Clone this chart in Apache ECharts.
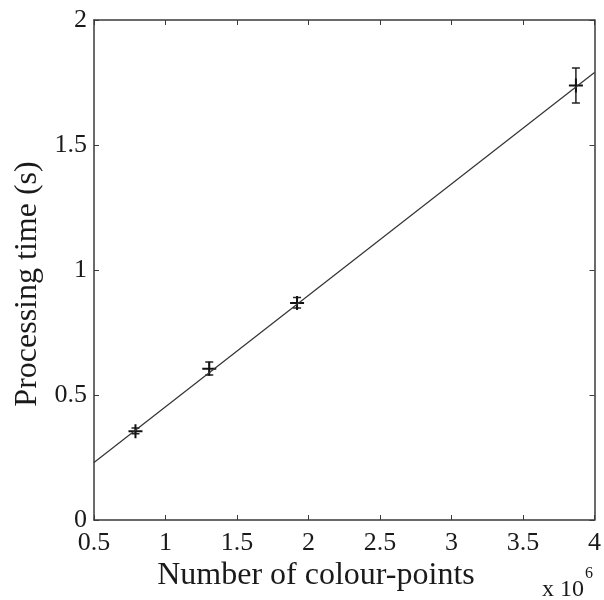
<!DOCTYPE html>
<html><head><meta charset="utf-8">
<script src="https://cdn.jsdelivr.net/npm/echarts@6/dist/echarts.min.js"></script>
<style>html,body{margin:0;padding:0;background:#fff}#c{width:604px;height:600px}</style>
</head><body><div id="c"></div>
<script>
// measured points (x in units of 10^6 colour-points)
const pointsX = [0.79, 1.306, 1.92, 3.87];
const pointsY = [0.355, 0.605, 0.868, 1.738];
const errLow = [0.345, 0.58, 0.848, 1.668];
const errHigh = [0.368, 0.632, 0.89, 1.808];
// fitted line endpoints
const fitX = [0.5, 4];
const fitY = [0.23, 1.79];
const xTicks = [0.5, 1, 1.5, 2, 2.5, 3, 3.5, 4];
const yTicks = [0, 0.5, 1, 1.5, 2];

const chart = echarts.init(document.getElementById('c'));
const axisCol = '#3a3a3a';
const font = 'Liberation Serif';
const errData = pointsX.map((x, i) => [x, pointsY[i], errLow[i], errHigh[i]]);
const baseX = {min: 0.5, max: 4, interval: 0.5, splitLine: {show: false},
  axisLine: {onZero: false, lineStyle: {color: axisCol, width: 1.5}},
  axisTick: {inside: true, length: 5, lineStyle: {color: axisCol}}};
const baseY = {min: 0, max: 2, interval: 0.5, splitLine: {show: false},
  axisLine: {onZero: false, lineStyle: {color: axisCol, width: 1.5}},
  axisTick: {inside: true, length: 5, lineStyle: {color: axisCol}}};
chart.setOption({
  animation: false,
  backgroundColor: '#fff',
  grid: {left: 94, right: 6, top: 20, bottom: 80},
  xAxis: [
    Object.assign({}, baseX, {type: 'value', position: 'bottom',
      axisLabel: {color: '#1a1a1a', fontFamily: font, fontSize: 26, margin: 10,
        formatter: v => String(v)}}),
    Object.assign({}, baseX, {type: 'value', position: 'top', axisLabel: {show: false}})
  ],
  yAxis: [
    Object.assign({}, baseY, {type: 'value', position: 'left',
      axisLabel: {color: '#1a1a1a', fontFamily: font, fontSize: 26, margin: 7,
        formatter: v => String(v)}}),
    Object.assign({}, baseY, {type: 'value', position: 'right', axisLabel: {show: false}})
  ],
  series: [
    {type: 'line', data: fitX.map((x, i) => [x, fitY[i]]), symbol: 'none',
      lineStyle: {color: '#333', width: 1.2}},
    {type: 'custom', data: errData,
      renderItem: function (params, api) {
        const c = api.coord([api.value(0), api.value(1)]);
        const lo = api.coord([api.value(0), api.value(2)]);
        const hi = api.coord([api.value(0), api.value(3)]);
        const cap = 4, mk = 7;
        const st = {stroke: '#222', lineWidth: 1.5};
        return {type: 'group', children: [
          {type: 'line', shape: {x1: lo[0], y1: lo[1], x2: hi[0], y2: hi[1]}, style: st},
          {type: 'line', shape: {x1: lo[0] - cap, y1: lo[1], x2: lo[0] + cap, y2: lo[1]}, style: st},
          {type: 'line', shape: {x1: hi[0] - cap, y1: hi[1], x2: hi[0] + cap, y2: hi[1]}, style: st},
          {type: 'line', shape: {x1: c[0] - mk, y1: c[1], x2: c[0] + mk, y2: c[1]}, style: {stroke: '#111', lineWidth: 2}},
          {type: 'line', shape: {x1: c[0], y1: c[1] - mk, x2: c[0], y2: c[1] + mk}, style: {stroke: '#111', lineWidth: 2}}
        ]};
      }}
  ],
  graphic: [
    {type: 'text', x: 316, y: 576, style: {text: 'Number of colour-points',
      font: '32px "Liberation Serif"', fill: '#1a1a1a', textAlign: 'center', textVerticalAlign: 'middle'}},
    {type: 'text', x: 28, y: 284, rotation: Math.PI / 2, style: {text: 'Processing time (s)',
      font: '32px "Liberation Serif"', fill: '#1a1a1a', textAlign: 'center', textVerticalAlign: 'middle'}},
    {type: 'text', x: 542, y: 590, style: {text: 'x 10',
      font: '24px "Liberation Serif"', fill: '#1a1a1a', textAlign: 'left', textVerticalAlign: 'middle'}},
    {type: 'text', x: 585, y: 574, style: {text: '6',
      font: '16px "Liberation Serif"', fill: '#1a1a1a', textAlign: 'left', textVerticalAlign: 'middle'}}
  ]
});
</script></body></html>
